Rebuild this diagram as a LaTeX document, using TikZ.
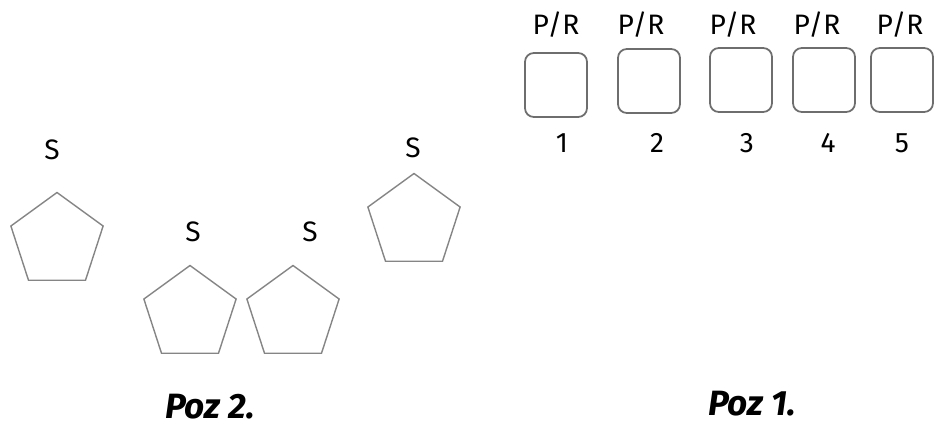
\documentclass[tikz,border=0pt]{standalone}
\usepackage{fontspec}
\setmainfont{Fira Sans}
\usetikzlibrary{shapes.geometric}
\definecolor{slot-line-color}{HTML}{6E6E6E}
\definecolor{pent-line-color}{HTML}{858585}

\begin{document}
\begin{tikzpicture}[x=0.02cm, y=-0.02cm,
slot/.style={rectangle, rounded corners=5pt, draw=slot-line-color, line width=1pt, minimum width=1.24cm, minimum height=1.28cm},
pent/.style={regular polygon, regular polygon sides=5, draw=pent-line-color, line width=0.8pt, minimum size=1.94cm},
tag/.style={font=\fontsize{16}{18}\selectfont},
caption/.style={font=\fontsize{20}{24}\selectfont\bfseries\itshape}]
\tikzstyle{every node}=[inner sep=0pt, outer sep=0pt]

\useasboundingbox (0,0) rectangle (937,427);

% Poz 1: five slots
\node (Slot1) [slot] at (556,85) {};
\node (Slot2) [slot] at (649,81) {};
\node (Slot3) [slot] at (741,80) {};
\node (Slot4) [slot] at (824,80) {};
\node (Slot5) [slot] at (902,80) {};
%
\node (PR1) [tag] at (556,25) {P/R};
\node (PR2) [tag] at (641,25) {P/R};
\node (PR3) [tag] at (733,25) {P/R};
\node (PR4) [tag] at (817,25) {P/R};
\node (PR5) [tag] at (900,25) {P/R};
%
\node (Num1) [tag] at (562,143) {1};
\node (Num2) [tag] at (657,143) {2};
\node (Num3) [tag] at (747,143) {3};
\node (Num4) [tag] at (828,143) {4};
\node (Num5) [tag] at (902,143) {5};

% Poz 2: four pentagons
\node (Pent1) [pent] at (57,241) {};
\node (Pent2) [pent] at (190,314) {};
\node (Pent3) [pent] at (293,314) {};
\node (Pent4) [pent] at (414,222) {};
%
\node (S1) [tag] at (52,150) {S};
\node (S2) [tag] at (193,232) {S};
\node (S3) [tag] at (310,232) {S};
\node (S4) [tag] at (413,148) {S};

\node (Poz2) [caption] at (210,407) {Poz 2.};
\node (Poz1) [caption] at (752,404) {Poz 1.};

\end{tikzpicture}
\end{document}
